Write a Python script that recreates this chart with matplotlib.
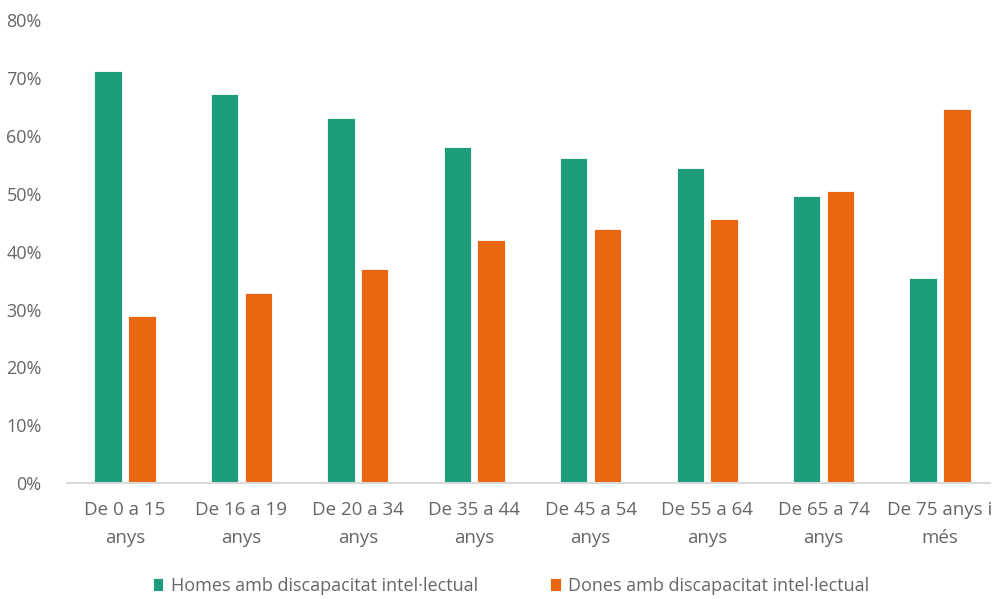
import numpy as np
import matplotlib.pyplot as plt
from matplotlib.ticker import PercentFormatter

plt.rcParams['font.family'] = ['Open Sans', 'DejaVu Sans']

categories = ['De 0 a 15\nanys', 'De 16 a 19\nanys', 'De 20 a 34\nanys', 'De 35 a 44\nanys',
              'De 45 a 54\nanys', 'De 55 a 64\nanys', 'De 65 a 74\nanys', 'De 75 anys i\nmés']
homes = [71.2, 67.2, 63.0, 58.0, 56.1, 54.4, 49.6, 35.4]
dones = [28.8, 32.8, 37.0, 42.0, 43.9, 45.6, 50.4, 64.6]
series_names = ['Homes amb discapacitat intel·lectual', 'Dones amb discapacitat intel·lectual']

green = '#1c9c7a'
orange = '#ea6610'
grey = '#666666'

fig = plt.figure(figsize=(9.96, 5.99), dpi=100)
ax = fig.add_axes([0.067, 0.193, 0.927, 0.774])

x = np.arange(len(categories))
w = 0.235
off = 0.145
ax.bar(x - off, homes, w, color=green, edgecolor='#ffffff', linewidth=0.6, label=series_names[0])
ax.bar(x + off, dones, w, color=orange, edgecolor='#ffffff', linewidth=0.6, label=series_names[1])

ax.set_xlim(-0.5, 7.43)
ax.set_ylim(0, 80)
ax.set_yticks(np.arange(0, 81, 10))
ax.yaxis.set_major_formatter(PercentFormatter(decimals=0))
ax.set_xticks(x)
ax.set_xticklabels(categories, linespacing=1.7)

for s in ['top', 'right', 'left']:
    ax.spines[s].set_visible(False)
ax.spines['bottom'].set_color('#d9d9d9')
ax.spines['bottom'].set_linewidth(1.5)
ax.tick_params(axis='both', length=0, labelsize=13.5, colors=grey)
ax.tick_params(axis='x', pad=13)
ax.tick_params(axis='y', labelsize=13, pad=18)

leg = fig.legend(loc='lower center', bbox_to_anchor=(0.513, -0.02), ncol=2, frameon=False,
                 fontsize=13, handlelength=0.6, handleheight=0.75, columnspacing=4.0,
                 handletextpad=0.4)
for t in leg.get_texts():
    t.set_color(grey)

fig.savefig('out.png', dpi=100)
